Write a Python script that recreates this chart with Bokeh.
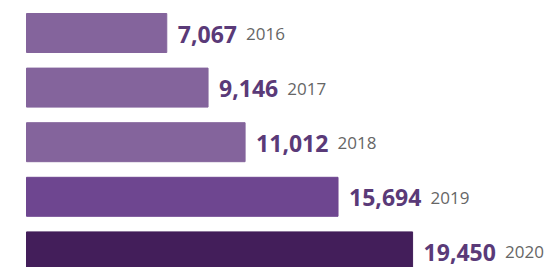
from bokeh.plotting import figure
from bokeh.models import Range1d, ColumnDataSource
from bokeh.core.properties import value
from bokeh.embed import file_html
from bokeh.resources import INLINE

years = ["2016", "2017", "2018", "2019", "2020"]
counts = [7067, 9146, 11012, 15694, 19450]
colors = ["#84649c", "#84649c", "#84649c", "#6e4690", "#431e5a"]

labels = [f"{c:,}" for c in counts]
ypos = list(range(len(years)))

# approximate advance widths (em) of Open Sans Bold
adv = {",": 0.29}
VAL_SIZE = 23
def text_w(s):
    return sum(adv.get(ch, 0.572) for ch in s) * VAL_SIZE

year_off = [11 + text_w(l) + 9 for l in labels]

src = ColumnDataSource(dict(y=ypos, right=counts, color=colors, label=labels,
                            year=years, yoff=year_off))

W, H = 555, 267
pitch = 54.6
top = -32.5 / pitch
bottom = top + H / pitch
scale = 0.01985
xstart = -26 / scale
xend = xstart + W / scale

p = figure(width=W, height=H, output_backend="svg", toolbar_location=None,
           x_range=Range1d(xstart, xend), y_range=Range1d(bottom, top),
           min_border=0, outline_line_color=None)
p.axis.visible = False
p.grid.visible = False
p.background_fill_color = "white"
p.border_fill_color = "white"

p.hbar(y="y", left=0, right="right", height=39 / pitch, color="color", source=src)
p.text(x="right", y="y", text="label", source=src, x_offset=11, y_offset=1,
       text_font=value("Open Sans"), text_font_style="bold", text_font_size=f"{VAL_SIZE}px",
       text_color="#5a3a78", text_baseline="alphabetic", text_align="left")
p.text(x="right", y="y", text="year", source=src, x_offset="yoff", y_offset=1,
       text_font=value("Open Sans"), text_font_size="17px",
       text_color="#666666", text_baseline="alphabetic", text_align="left")

open("out.html", "w").write(file_html(p, INLINE))
